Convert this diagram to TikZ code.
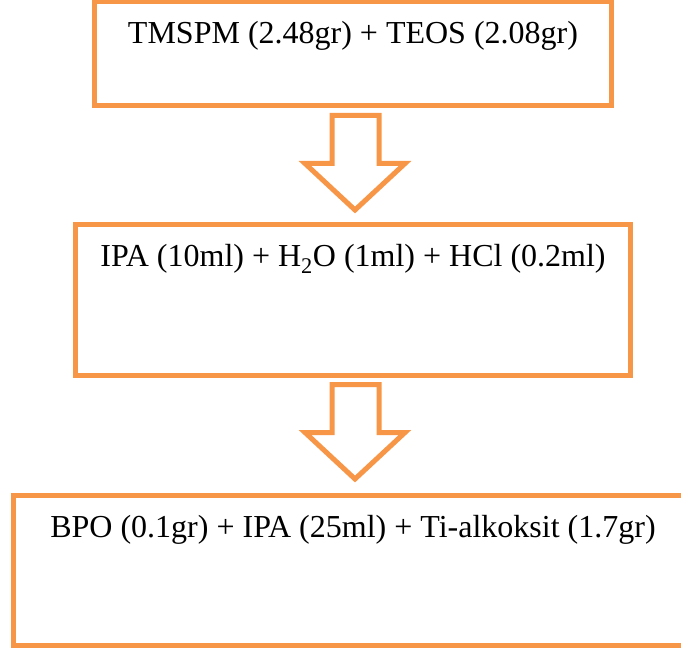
\documentclass[tikz,border=0pt]{standalone}
\usepackage{fontspec}
\setmainfont{Liberation Serif}
\usepackage{tikz}
\usetikzlibrary{positioning}
\definecolor{stageorange}{HTML}{F79646}

\begin{document}
\begin{tikzpicture}[
  x=1pt, y=1pt,
  every node/.style={font=\fontsize{32}{38}\selectfont},
  stagebox/.style={draw=stageorange, line width=5pt, inner sep=0pt,
                   outer sep=0pt, text height=42pt},
  blockarr/.style={draw=stageorange, line width=5pt, fill=white}
]
\useasboundingbox (0,0) rectangle (681,-650);

% Stage 1 — silane precursors
\node[stagebox, minimum width=517pt, text depth=62pt] (S1) at (353,-54)
  {TMSPM (2.48gr) + TEOS (2.08gr)};

% Stage 2 — hydrolysis
\node[stagebox, minimum width=555pt, text depth=108pt, below=119pt of S1] (S2)
  {IPA (10ml) + H\textsubscript{2}O (1ml) + HCl (0.2ml)};

% Stage 3 — titania addition
\node[stagebox, minimum width=680pt, text depth=108pt, below=120pt of S2] (S3)
  {BPO (0.1gr) + IPA (25ml) + Ti-alkoksit (1.7gr)};

% Block arrows between stages
\foreach \a in {S1, S2}
  \draw[blockarr, shift={(\a.south)}] (-21,-9.5) -- (-21,-57.5) -- (-48,-57.5)
    -- (2,-104) -- (52,-57.5) -- (26,-57.5) -- (26,-9.5) -- cycle;

\end{tikzpicture}
\end{document}
